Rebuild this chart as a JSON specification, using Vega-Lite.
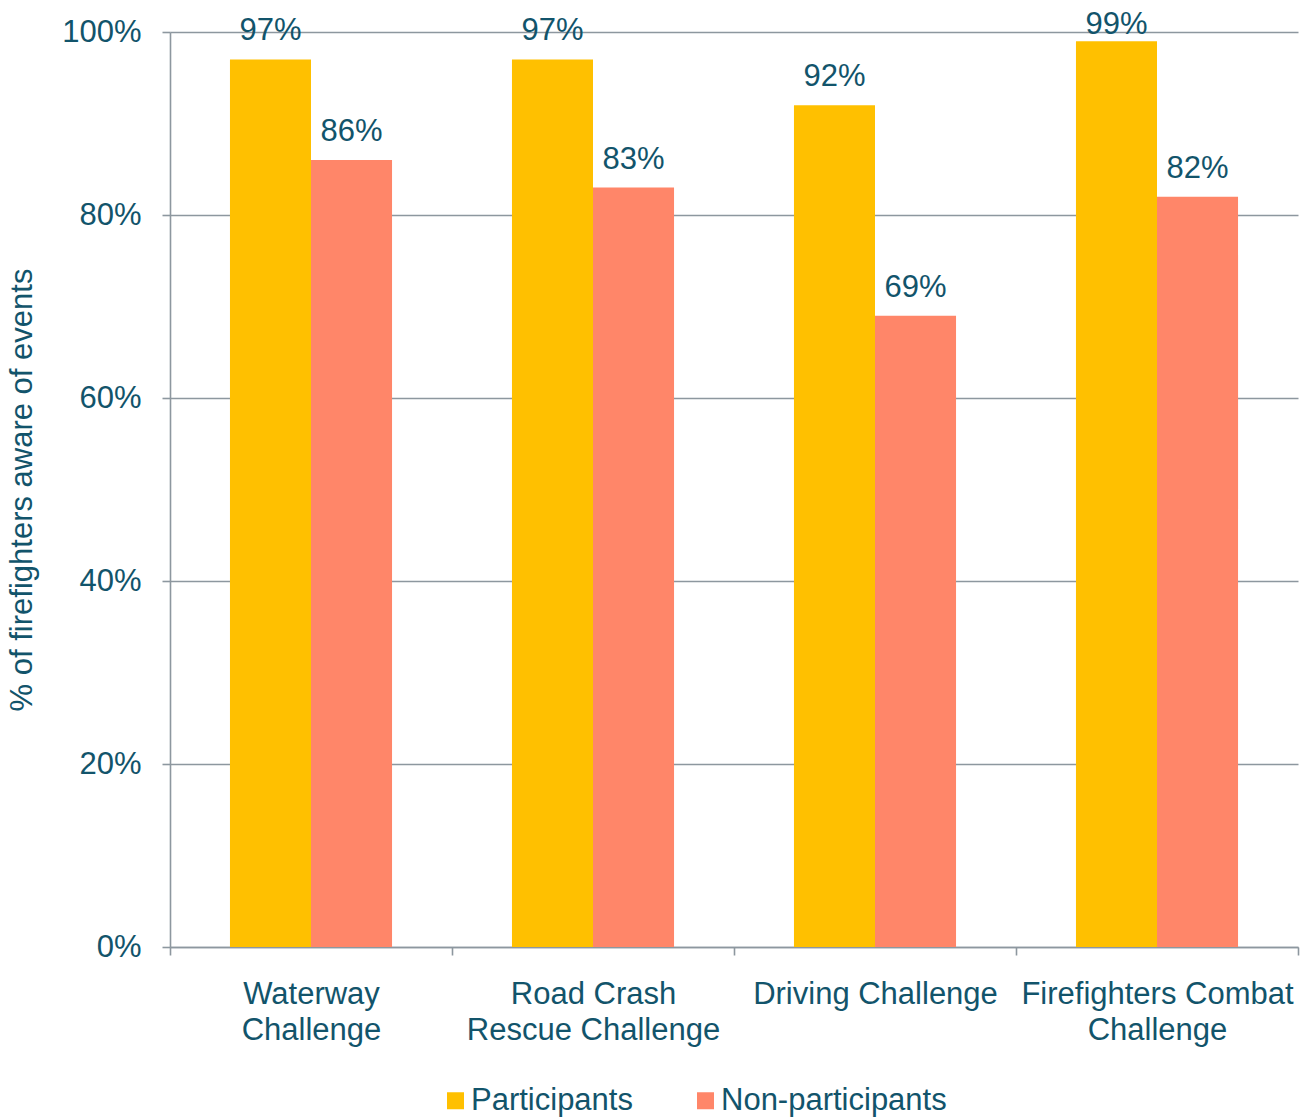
{
  "$schema": "https://vega.github.io/schema/vega-lite/v6.json",
  "width": 1128,
  "height": 915,
  "autosize": "none",
  "padding": {"left": 170, "top": 32, "right": 4, "bottom": 171},
  "background": "white",
  "config": {
    "font": "Liberation Sans",
    "view": {"stroke": null},
    "axis": {
      "domainColor": "#8D979F",
      "domainWidth": 1.6,
      "tickColor": "#8D979F",
      "tickWidth": 1.6,
      "tickSize": 8,
      "gridColor": "#8D979F",
      "gridWidth": 1.6,
      "labelFont": "Liberation Sans",
      "labelFontSize": 31,
      "labelColor": "#12546B",
      "titleFont": "Liberation Sans",
      "titleFontSize": 31,
      "titleFontWeight": "normal",
      "titleColor": "#12546B"
    }
  },
  "data": {
    "values": [
      {"event": "Waterway Challenge", "group": "Participants", "pct": 0.97},
      {"event": "Waterway Challenge", "group": "Non-participants", "pct": 0.86},
      {"event": "Road Crash Rescue Challenge", "group": "Participants", "pct": 0.97},
      {"event": "Road Crash Rescue Challenge", "group": "Non-participants", "pct": 0.83},
      {"event": "Driving Challenge", "group": "Participants", "pct": 0.92},
      {"event": "Driving Challenge", "group": "Non-participants", "pct": 0.69},
      {"event": "Firefighters Combat Challenge", "group": "Participants", "pct": 0.99},
      {"event": "Firefighters Combat Challenge", "group": "Non-participants", "pct": 0.82}
    ]
  },
  "encoding": {
    "x": {
      "field": "event",
      "type": "nominal",
      "sort": null,
      "scale": {"paddingInner": 0, "paddingOuter": 0},
      "axis": {
        "title": null,
        "labelAngle": 0,
        "tickBand": "extent",
        "labelPadding": 24,
        "labelLimit": 0,
        "labelLineHeight": 36,
        "labelBaseline": "top",
        "labelExpr": "datum.value == 'Waterway Challenge' ? ['Waterway', 'Challenge'] : datum.value == 'Road Crash Rescue Challenge' ? ['Road Crash', 'Rescue Challenge'] : datum.value == 'Firefighters Combat Challenge' ? ['Firefighters Combat', 'Challenge'] : datum.value"
      }
    },
    "xOffset": {
      "field": "group",
      "type": "nominal",
      "sort": ["Participants", "Non-participants"],
      "scale": {"paddingInner": 0, "paddingOuter": 0.74}
    },
    "y": {
      "field": "pct",
      "type": "quantitative",
      "scale": {"domain": [0, 1]},
      "axis": {
        "title": "% of firefighters aware of events",
        "values": [0, 0.2, 0.4, 0.6, 0.8, 1],
        "format": ".0%",
        "grid": true,
        "labelPadding": 21,
        "titlePadding": 23
      }
    }
  },
  "layer": [
    {
      "mark": {"type": "bar"},
      "encoding": {
        "color": {
          "field": "group",
          "type": "nominal",
          "scale": {"domain": ["Participants", "Non-participants"], "range": ["#FFC000", "#FF8669"]},
          "legend": {
            "title": null,
            "orient": "none",
            "direction": "horizontal",
            "legendX": 270,
            "legendY": 1053,
            "symbolType": "square",
            "symbolSize": 289,
            "symbolStrokeWidth": 0,
            "labelFontSize": 31,
            "labelColor": "#12546B",
            "labelFont": "Liberation Sans",
            "labelOffset": 0,
            "labelLimit": 0,
            "columnPadding": 57
          }
        }
      }
    },
    {
      "transform": [{"filter": "datum.pct < 0.985"}],
      "mark": {"type": "text", "dy": -19, "baseline": "alphabetic", "fontSize": 31, "color": "#12546B", "font": "Liberation Sans"},
      "encoding": {"text": {"field": "pct", "type": "quantitative", "format": ".0%"}}
    },
    {
      "transform": [{"filter": "datum.pct >= 0.985"}],
      "mark": {"type": "text", "dy": -7, "baseline": "alphabetic", "fontSize": 31, "color": "#12546B", "font": "Liberation Sans"},
      "encoding": {"text": {"field": "pct", "type": "quantitative", "format": ".0%"}}
    }
  ]
}
